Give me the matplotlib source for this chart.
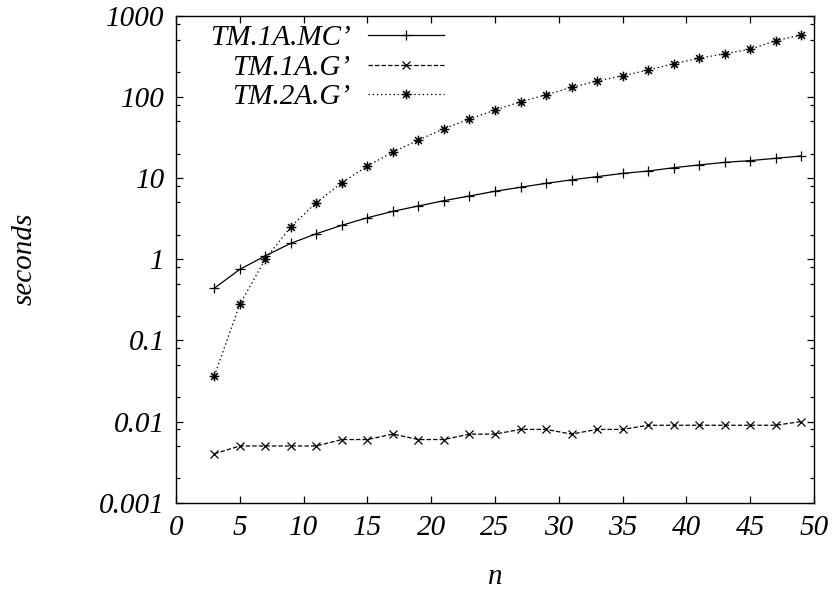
import numpy as np
import matplotlib
matplotlib.use("Agg")
import matplotlib.pyplot as plt
from matplotlib.path import Path
from matplotlib.ticker import FixedLocator, FixedFormatter

# data
n = [3, 5, 7, 9, 11, 13, 15, 17, 19, 21, 23, 25, 27, 29, 31, 33, 35, 37, 39, 41, 43, 45, 47, 49]
tm1a_mc = [0.438, 0.75, 1.10, 1.57, 2.06, 2.62, 3.24, 3.89, 4.53, 5.26, 6.01, 6.87,
           7.7, 8.6, 9.5, 10.4, 11.4, 12.2, 13.4, 14.5, 15.6, 16.4, 17.5, 18.7]
tm1a_g = [0.004, 0.005, 0.005, 0.005, 0.005, 0.006, 0.006, 0.007, 0.006, 0.006, 0.007, 0.007,
          0.008, 0.008, 0.007, 0.008, 0.008, 0.009, 0.009, 0.009, 0.009, 0.009, 0.009, 0.010]
tm2a_g = [0.0364, 0.278, 1.0, 2.51, 4.97, 8.77, 14.1, 20.9, 29.4, 40.5, 53.4, 68.6,
          87, 106, 131, 157, 182, 214, 256, 299, 340, 386, 492, 578]
labels = ["TM.1A.MC\u2019", "TM.1A.G\u2019", "TM.2A.G\u2019"]

xticks = [0, 5, 10, 15, 20, 25, 30, 35, 40, 45, 50]
yticks = [0.001, 0.01, 0.1, 1, 10, 100, 1000]
yticklabels = ["0.001", "0.01", "0.1", "1", "10", "100", "1000"]

plt.rcParams['font.family'] = ['Liberation Serif', 'DejaVu Serif']
plt.rcParams['font.style'] = 'italic'
plt.rcParams['font.size'] = 21
plt.rcParams['lines.scale_dashes'] = False

# gnuplot style star: plus and cross together
star = Path([(-1, 0), (1, 0), (0, -1), (0, 1), (-0.7, -0.7), (0.7, 0.7), (-0.7, 0.7), (0.7, -0.7)],
            [Path.MOVETO, Path.LINETO] * 4)

fig = plt.figure(figsize=(8.35, 5.94), dpi=100)
ax = fig.add_axes([176/835, 1-502.7/594, 638/835, 487/594])

ax.plot(n, tm1a_mc, color='black', lw=0.9, marker='+', ms=7, mew=0.9, label=labels[0])
ax.plot(n, tm1a_g, color='black', lw=0.9, dashes=(3.2, 1.5), marker='x', ms=5.5, mew=0.9, label=labels[1])
ax.plot(n, tm2a_g, color='black', lw=0.9, dashes=(1.0, 2.0), marker=star, ms=7, mew=1.1,
        fillstyle='none', label=labels[2])

ax.set_yscale('log')
ax.set_xlim(0, 50)
ax.set_ylim(0.001, 1000)

ax.xaxis.set_major_locator(FixedLocator(xticks))
ax.yaxis.set_major_locator(FixedLocator(yticks))
ax.yaxis.set_major_formatter(FixedFormatter(yticklabels))
minors = [m * 10.0**k for k in range(-3, 3) for m in (2, 5, 8)]
ax.yaxis.set_minor_locator(FixedLocator(minors))
ax.yaxis.set_minor_formatter(FixedFormatter([''] * len(minors)))

ax.tick_params(which='both', direction='in', top=True, right=True, width=0.9)
ax.tick_params(which='major', length=5)
ax.tick_params(which='minor', length=3)
ax.tick_params(axis='x', pad=9)
ax.tick_params(axis='y', pad=8)
for s in ax.spines.values():
    s.set_linewidth(1.0)

ax.set_xlabel('n', va='center')
ax.xaxis.set_label_coords(0.5, -(577 - 502.7) / 487)
ax.set_ylabel('seconds', va='center')
ax.yaxis.set_label_coords((25 - 176) / 638, 0.5)

ax.legend(loc='upper right', bbox_to_anchor=(444/835, 1-25/594), bbox_transform=fig.transFigure,
          frameon=False, markerfirst=False, handlelength=2.6, handletextpad=0.6,
          labelspacing=0.1, borderpad=0, borderaxespad=0)

fig.savefig('out.png', dpi=100)
